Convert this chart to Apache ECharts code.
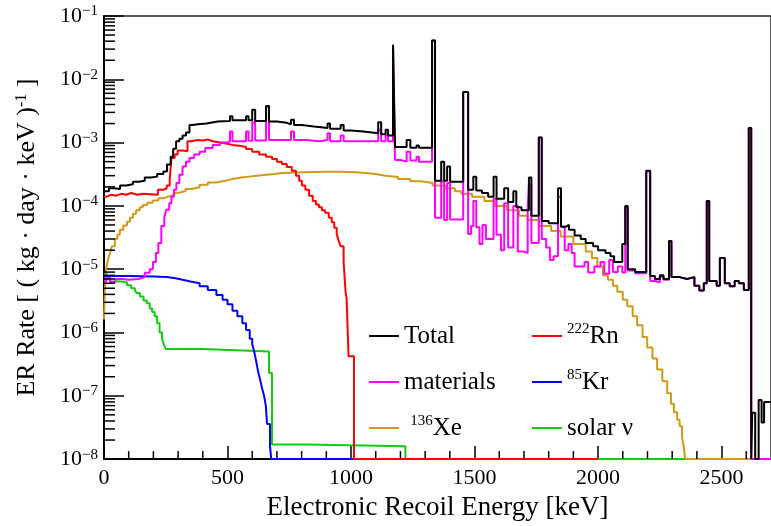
<!DOCTYPE html>
<html>
<head>
<meta charset="utf-8">
<script src="https://cdn.jsdelivr.net/npm/echarts@6/dist/echarts.min.js"></script>
<style>
html,body{margin:0;padding:0;background:#fff;}
#chart{width:771px;height:526px;}
</style>
</head>
<body>
<div id="chart"></div>
<script>
// ---- data: step histograms as [bin left edge keV, rate], last point closes the final bin ----
const totalBins = [
 [0,1.7e-4],[20,1.9e-4],[40,1.85e-4],[65,2.1e-4],[90,2.2e-4],[117,2.4e-4],[140,2.5e-4],[165,2.8e-4],
 [190,2.9e-4],[215,3.2e-4],[240,3.5e-4],[255,4.5e-4],[270,6e-4],[280,8e-4],[292,1.05e-3],[305,1.15e-3],
 [318,1.3e-3],[332,1.45e-3],[346,1.9e-3],[358,1.95e-3],[380,2.0e-3],[415,2.15e-3],[460,2.2e-3],
 [510,2.6e-3],[520,2.25e-3],[575,2.6e-3],[585,2.25e-3],[600,3.3e-3],[612,2.2e-3],[656,3.8e-3],
 [668,2.15e-3],[700,2.05e-3],[740,1.95e-3],[757,2.3e-3],[769,1.9e-3],[800,1.8e-3],[850,1.7e-3],
 [905,2.0e-3],[915,1.65e-3],[958,1.9e-3],[970,1.55e-3],[1000,1.5e-3],[1050,1.4e-3],[1110,2.1e-3],
 [1122,1.35e-3],[1140,1.6e-3],[1150,1.3e-3],[1170,0.035],[1178,8.5e-4],[1225,1.1e-3],[1240,8.3e-4],
 [1265,9e-4],[1275,8.3e-4],[1328,0.041],[1340,2.5e-4],[1365,5e-4],[1377,2.5e-4],[1389,4.2e-4],
 [1401,2.4e-4],[1454,6.3e-3],[1474,1.8e-4],[1495,2.9e-4],[1507,1.75e-4],[1530,1.6e-4],[1555,1.4e-4],
 [1577,2.9e-4],[1589,1.3e-4],[1620,1.9e-4],[1636,1.15e-4],[1657,1.7e-4],[1669,9.5e-5],[1690,8.5e-5],
 [1720,2.8e-4],[1730,7e-5],[1760,1.2e-3],[1772,5.8e-5],[1800,5.3e-5],[1838,1.9e-4],[1850,4.7e-5],
 [1870,5e-5],[1882,4.2e-5],[1905,3.4e-5],[1930,3e-5],[1950,2.6e-5],[1980,2.3e-5],[2000,2.0e-5],
 [2030,1.8e-5],[2050,1.6e-5],[2065,1.3e-5],[2098,2.5e-5],[2110,1.0e-4],[2120,1.0e-5],[2150,9e-6],
 [2195,3.6e-4],[2211,7.8e-6],[2230,7e-6],[2250,8e-6],[2265,7e-6],[2287,2.8e-5],[2297,7.5e-6],
 [2330,7e-6],[2360,7.5e-6],[2390,5.5e-6],[2410,4.6e-6],[2428,6e-6],[2440,1.2e-4],[2450,6.5e-6],
 [2480,5.5e-6],[2493,1.5e-5],[2513,6e-6],[2533,5.4e-6],[2553,6.5e-6],[2570,6e-6],[2590,4.7e-6],
 [2610,1.7e-3],[2620,1e-8],[2624,5.4e-8],[2636,1e-8],[2650,8.6e-8],[2662,3.8e-8],[2672,8e-8],[2700,8e-8]
];
const materialsBins = [
 [0,6.5e-6],[10,7.2e-6],[25,6.3e-6],[45,7e-6],[75,6.8e-6],[100,7e-6],[140,7.5e-6],[165,8.8e-6],
 [185,1e-5],[198,1.3e-5],[210,1.8e-5],[220,2.6e-5],[232,4.8e-5],[244,6.5e-5],[252,8.7e-5],[264,1.1e-4],
 [273,1.4e-4],[283,1.8e-4],[293,2.3e-4],[305,3.1e-4],[318,4.2e-4],[332,5e-4],[346,5.7e-4],[365,6.5e-4],
 [387,7.2e-4],[410,8.2e-4],[440,9.2e-4],[470,1.0e-3],[494,1.04e-3],[510,1.5e-3],[520,1.05e-3],
 [575,1.5e-3],[585,1.07e-3],[600,2.1e-3],[612,1.08e-3],[656,3.7e-3],[668,1.1e-3],[757,1.5e-3],
 [769,1.1e-3],[820,1.05e-3],[870,1.1e-3],[905,1.4e-3],[915,1.05e-3],[958,1.3e-3],[970,1.05e-3],
 [1110,1.6e-3],[1122,1.05e-3],[1140,1.3e-3],[1150,1.05e-3],[1170,0.035],[1178,5.3e-4],[1200,5e-4],
 [1225,7.2e-4],[1240,5.2e-4],[1265,6e-4],[1275,5e-4],[1328,0.041],[1340,6.5e-5],[1365,2.45e-4],
 [1377,6e-5],[1389,2.3e-4],[1401,6.1e-5],[1454,6.3e-3],[1474,3.6e-5],[1486,4.8e-5],[1495,1.2e-4],
 [1507,4.6e-5],[1520,2.5e-5],[1532,5e-5],[1546,3e-5],[1577,1.3e-4],[1589,3.5e-5],[1607,2e-5],
 [1620,1.1e-4],[1636,2.2e-5],[1657,1e-4],[1675,1.9e-5],[1700,1.8e-5],[1715,8.8e-5],[1720,2.2e-4],
 [1730,2.6e-5],[1760,1.2e-3],[1772,3e-5],[1790,2.2e-5],[1805,1.4e-5],[1820,1.6e-5],[1838,1.4e-4],
 [1850,4.7e-5],[1865,2e-5],[1880,2.5e-5],[1893,1.8e-5],[1905,1.1e-5],[1945,1.3e-5],[1960,8.9e-6],
 [1985,1.1e-5],[2010,1.3e-5],[2025,8.5e-6],[2045,1.4e-5],[2060,9e-6],[2080,1.1e-5],[2098,8.9e-6],
 [2110,9.5e-5],[2120,9.5e-6],[2150,8.6e-6],[2195,3.5e-4],[2211,6.5e-6],[2230,6.2e-6],[2250,7.5e-6],
 [2265,6.8e-6],[2287,2.8e-5],[2297,7.5e-6],[2330,7e-6],[2360,7.5e-6],[2390,5.5e-6],[2410,4.6e-6],
 [2428,6e-6],[2440,1.2e-4],[2450,6.5e-6],[2480,5.5e-6],[2493,1.5e-5],[2513,6e-6],[2533,5.4e-6],
 [2553,6.5e-6],[2570,6e-6],[2590,4.7e-6],[2610,1.7e-3],[2620,1e-8],[2700,1e-8]
];
const rnBins = [
 [0,1.4e-4],[10,1.5e-4],[30,1.45e-4],[50,1.55e-4],[70,1.5e-4],[90,1.6e-4],[110,1.5e-4],[135,1.55e-4],
 [157,1.5e-4],[218,1.8e-4],[240,1.9e-4],[254,2.1e-4],[266,2.6e-4],[273,5.7e-4],[286,6.5e-4],
 [298,7.5e-4],[320,7.3e-4],[338,1.05e-3],[354,1.1e-3],[380,1.08e-3],[400,1.12e-3],[420,1.05e-3],
 [440,1.0e-3],[470,9.7e-4],[494,9.2e-4],[520,8.9e-4],[548,8.5e-4],[575,7.9e-4],[600,7.2e-4],
 [628,6.5e-4],[656,6e-4],[680,5.5e-4],[700,5e-4],[720,4.6e-4],[740,4.1e-4],[760,3.6e-4],[777,3e-4],
 [790,2.5e-4],[801,2.1e-4],[815,1.8e-4],[830,1.45e-4],[845,1.2e-4],[858,1.05e-4],[870,9.5e-5],
 [882,8.5e-5],[895,7.8e-5],[910,6.5e-5],[922,5.5e-5],[932,4.5e-5],[942,3.6e-5],[950,2.8e-5],
 [958,2.3e-5],[970,1.3e-5],[978,4.3e-6],[982,3.5e-6],[990,4.2e-7],[1012,1e-8],[2000,1e-8]
];
const xeBins = [
 [0,1.6e-6],[4,5e-6],[8,1e-5],[16,1.4e-5],[24,1.8e-5],[32,2.3e-5],[44,3e-5],[54,3.5e-5],[64,4.2e-5],
 [78,4.9e-5],[93,5.6e-5],[105,6.5e-5],[117,7.5e-5],[130,8.5e-5],[145,9.5e-5],[157,1.03e-4],
 [175,1.12e-4],[197,1.22e-4],[220,1.32e-4],[240,1.4e-4],[260,1.5e-4],[285,1.62e-4],[305,1.72e-4],
 [330,1.85e-4],[355,1.97e-4],[387,2.15e-4],[420,2.35e-4],[455,2.5e-4],[490,2.65e-4],[520,2.8e-4],
 [555,2.9e-4],[588,3e-4],[620,3.1e-4],[656,3.2e-4],[690,3.3e-4],[721,3.35e-4],[760,3.4e-4],
 [800,3.45e-4],[900,3.45e-4],[960,3.4e-4],[1020,3.3e-4],[1060,3.2e-4],[1100,3e-4],[1140,2.85e-4],
 [1190,2.65e-4],[1240,2.45e-4],[1285,2.3e-4],[1330,2.1e-4],[1381,1.9e-4],[1420,1.7e-4],[1446,1.55e-4],
 [1490,1.4e-4],[1540,1.2e-4],[1583,1.0e-4],[1630,8.5e-5],[1680,7e-5],[1715,6e-5],[1760,4.8e-5],
 [1810,4e-5],[1849,3.3e-5],[1900,2.5e-5],[1950,1.9e-5],[1975,1.5e-5],[1997,1.1e-5],[2020,8e-6],
 [2040,6.8e-6],[2060,5.5e-6],[2078,4.4e-6],[2100,3.3e-6],[2118,2.6e-6],[2140,1.8e-6],[2158,1.3e-6],
 [2180,8.5e-7],[2199,5.8e-7],[2220,3.9e-7],[2239,2.6e-7],[2260,1.7e-7],[2280,1.1e-7],[2295,7.5e-8],
 [2307,5.5e-8],[2320,4.2e-8],[2330,3.3e-8],[2340,2.2e-8],[2348,1.5e-8],[2352,1e-8],[2700,1e-8]
];
const krBins = [
 [0,7.8e-6],[100,7.7e-6],[200,7.5e-6],[254,7.2e-6],[290,6.8e-6],[318,6.4e-6],[350,6e-6],[387,5.4e-6],
 [420,4.7e-6],[455,3.9e-6],[480,3.3e-6],[500,2.8e-6],[520,2.2e-6],[540,1.8e-6],[560,1.4e-6],
 [575,1.1e-6],[590,8e-7],[600,6.5e-7],[608,5e-7],[616,3.5e-7],[624,2.4e-7],[632,1.8e-7],[640,1.3e-7],
 [648,1e-7],[655,7e-8],[660,3.6e-8],[672,1.6e-8],[677,1e-8],[1012,1e-8]
];
const solarBins = [
 [0,8.5e-6],[10,7.5e-6],[24,6.4e-6],[70,6.2e-6],[93,5.6e-6],[110,5e-6],[125,4.6e-6],[133,4.2e-6],
 [145,3.7e-6],[160,3.2e-6],[173,2.9e-6],[185,2.4e-6],[195,2.1e-6],[205,1.8e-6],[215,1.4e-6],
 [225,1e-6],[235,8e-7],[242,6.5e-7],[250,5.5e-7],[400,5.2e-7],[560,5.0e-7],[668,2.3e-7],
 [680,1.7e-8],[820,1.6e-8],[1220,1e-8],[2350,1e-8]
];
// axis decorations
const xMajorTicks = [0, 500, 1000, 1500, 2000, 2500];
const xMinorTicks = [100,200,300,400,600,700,800,900,1100,1200,1300,1400,1600,1700,1800,1900,2100,2200,2300,2400,2600];
const yMinorTicks = [
 2e-8,3e-8,4e-8,5e-8,6e-8,7e-8,8e-8,9e-8, 2e-7,3e-7,4e-7,5e-7,6e-7,7e-7,8e-7,9e-7,
 2e-6,3e-6,4e-6,5e-6,6e-6,7e-6,8e-6,9e-6, 2e-5,3e-5,4e-5,5e-5,6e-5,7e-5,8e-5,9e-5,
 2e-4,3e-4,4e-4,5e-4,6e-4,7e-4,8e-4,9e-4, 2e-3,3e-3,4e-3,5e-3,6e-3,7e-3,8e-3,9e-3,
 2e-2,3e-2,4e-2,5e-2,6e-2,7e-2,8e-2,9e-2
];
const legendLabels = {
 'Total':'Total', 'materials':'materials', '136Xe':' {sup|136}Xe',
 '222Rn':'{sup|222}Rn', '85Kr':'{sup|85}Kr', 'solar ν':'solar ν'
};

const FONT = 'Liberation Serif';
const chart = echarts.init(document.getElementById('chart'), null, {renderer:'canvas'});

function hist(name, data, color, z, width) {
  return {
    name, type:'line', step:'end', data, symbol:'none', clip:false, z,
    lineStyle:{color, width}, itemStyle:{color}, emphasis:{disabled:true}, animation:false
  };
}
function tickSeries(vals, isX, len) {
  return {
    type:'custom', silent:true, z:20, clip:false, animation:false,
    data: vals.map(v => isX ? [v, 1e-8] : [0, v]),
    encode:{x:0, y:1},
    renderItem: function(params, api) {
      const p = api.coord([api.value(0), api.value(1)]);
      const shape = isX ? {x1:p[0], y1:p[1], x2:p[0], y2:p[1]-len}
                        : {x1:p[0], y1:p[1], x2:p[0]+len, y2:p[1]};
      return {type:'line', shape, style:{stroke:'#000', lineWidth:1.5}};
    }
  };
}

const legendCommon = {
  orient:'vertical', itemWidth:30, itemHeight:2, itemGap:18, icon:'rect',
  textStyle:{fontFamily:FONT, fontSize:25, color:'#000', lineHeight:28,
    rich:{sup:{fontFamily:FONT, fontSize:15, verticalAlign:'top', lineHeight:28, color:'#000'}}},
  formatter: n => legendLabels[n],
  selectedMode:false
};

chart.setOption({
  animation:false,
  backgroundColor:'#fff',
  grid:{left:104, top:16, bottom:66, right:-3.4, show:true, borderColor:'#222', borderWidth:1.5, backgroundColor:'transparent'},
  legend:[
    Object.assign({}, legendCommon, {data:['Total','materials','136Xe'], left:364, top:317}),
    Object.assign({}, legendCommon, {data:['222Rn','85Kr','solar ν'], left:527, top:317})
  ],
  xAxis:{
    type:'value', min:0, max:2700, interval:500,
    name:'Electronic Recoil Energy [keV]', nameLocation:'middle', nameGap:34,
    nameTextStyle:{fontFamily:FONT, fontSize:27, color:'#000'},
    axisLine:{lineStyle:{color:'#000', width:2}},
    axisTick:{inside:true, length:13, lineStyle:{color:'#000', width:1.5}},
    axisLabel:{fontFamily:FONT, fontSize:22, color:'#000', margin:8, showMaxLabel:false,
      formatter: v => (xMajorTicks.indexOf(v) >= 0 ? String(v) : '')},
    splitLine:{show:false}
  },
  yAxis:{
    type:'log', logBase:10, min:1e-8, max:1e-1,
    name:'ER Rate [ ( kg · day · keV ){s|-1} ]', nameLocation:'middle', nameRotate:90, nameGap:64,
    nameTextStyle:{fontFamily:FONT, fontSize:26, color:'#000',
      rich:{s:{fontFamily:FONT, fontSize:16, verticalAlign:'top', color:'#000'}}},
    axisLine:{lineStyle:{color:'#000', width:2}},
    axisTick:{inside:true, length:20, lineStyle:{color:'#000', width:1.5}},
    axisLabel:{fontFamily:FONT, color:'#000', margin:6,
      formatter: v => '{b|10}{e|−' + Math.round(-Math.log10(v)) + '}',
      rich:{
        b:{fontFamily:FONT, fontSize:22, lineHeight:24, color:'#000'},
        e:{fontFamily:FONT, fontSize:15, lineHeight:24, verticalAlign:'top', color:'#000'}
      }},
    splitLine:{show:false}
  },
  series:[
    hist('136Xe', xeBins, '#cf9a1a', 3, 2),
    hist('solar ν', solarBins, '#11cc11', 4, 2),
    hist('85Kr', krBins, '#0000ff', 5, 2),
    hist('222Rn', rnBins, '#ff0000', 6, 2),
    hist('materials', materialsBins, '#ff00ff', 7, 2),
    hist('Total', totalBins, '#000000', 8, 2),
    tickSeries(xMinorTicks, true, 8),
    tickSeries(yMinorTicks, false, 11)
  ]
});
</script>
</body>
</html>
